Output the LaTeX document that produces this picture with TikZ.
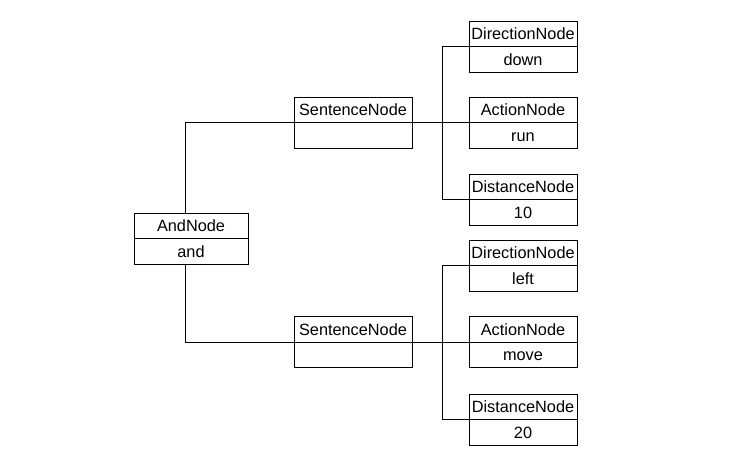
\documentclass[tikz,border=0pt]{standalone}
\usepackage{fontspec}
\setmainfont{Liberation Sans}
\usetikzlibrary{calc}
\tikzset{
  umlbox/.style={draw=black, line width=0.8bp, minimum height=51bp, inner sep=0pt, fill=white},
  boxtext/.style={inner sep=0pt, text height=11.7bp, text depth=0bp, font=\fontsize{16.3bp}{19bp}\selectfont},
  conn/.style={draw=black, line width=0.8bp},
}
\newcommand{\umlnode}[6]{%
  \node[umlbox, minimum width=#4] (#1) at (#2,#3) {};
  \draw[conn] (#1.west) -- (#1.east);
  \node[boxtext] (#1-top) at ($(#1.center)+(0,-12.75)$) {#5};
  \node[boxtext] (#1-bot) at ($(#1.center)+(0,12.75)$) {#6};
}
\begin{document}
\begin{tikzpicture}[x=1bp,y=-1bp]
\useasboundingbox (0,0) rectangle (737,475);
\umlnode{and}{191}{238.5}{114bp}{AndNode}{and}
\umlnode{s1}{353}{122.5}{118bp}{SentenceNode}{}
\umlnode{s2}{353}{342}{118bp}{SentenceNode}{}
\umlnode{d1}{523}{46.5}{108bp}{DirectionNode}{down}
\umlnode{a1}{523}{122.5}{108bp}{ActionNode}{run}
\umlnode{t1}{523}{199.5}{108bp}{DistanceNode}{10}
\umlnode{d2}{523}{265.5}{108bp}{DirectionNode}{left}
\umlnode{a2}{523}{342}{108bp}{ActionNode}{move}
\umlnode{t2}{523}{419.5}{108bp}{DistanceNode}{20}
\draw[conn] ([xshift=-5.5bp]and.north) |- (s1.west);
\draw[conn] ([xshift=-5.5bp]and.south) |- (s2.west);
\draw[conn] (s1.east) -- (a1.west);
\draw[conn] (s2.east) -- (a2.west);
\draw[conn] (d1.west) -- ++(-26,0) |- (t1.west);
\draw[conn] (d2.west) -- ++(-26,0) |- (t2.west);
\end{tikzpicture}
\end{document}
